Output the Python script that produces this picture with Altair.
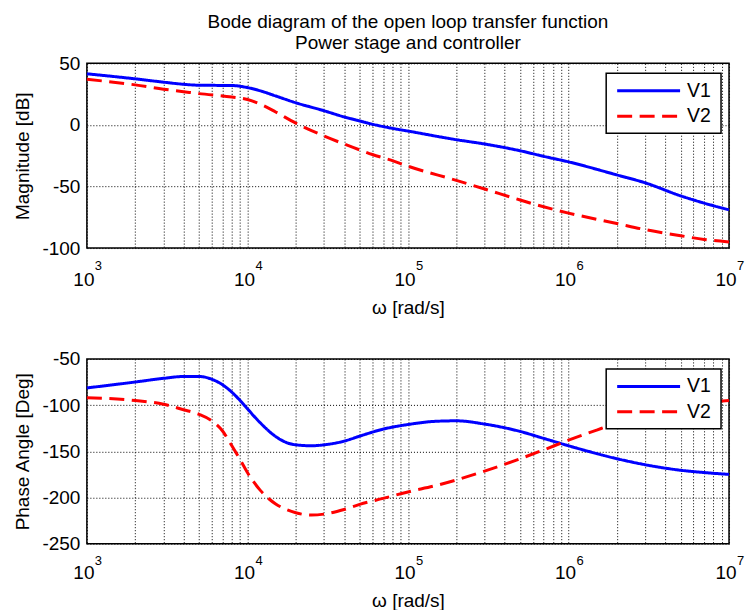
import altair as alt
import pandas as pd

# ---- data ----
series = ["V1", "V2"]

freq_mag = [1e3, 2e3, 3e3, 4e3, 5e3, 8e3, 1e4, 1.25e4, 1.5e4, 2e4, 3e4, 4e4, 5e4, 6e4,
            8e4, 1e5, 2e5, 3e5, 5e5, 7e5, 1e6, 2e6, 3e6, 5e6, 7e6, 1e7]
mag_v1 = [41.5, 37.4, 34.7, 33, 32.2, 32, 30.3, 27, 23.5, 18, 11.5, 6.5, 3.2, 0.6,
          -2.8, -5, -12, -15.5, -21, -25.5, -30, -40.6, -47, -57.6, -63.5, -69]
mag_v2 = [37, 32.5, 29, 27, 25.4, 22.7, 20.6, 15.9, 10.5, 1.5, -9, -15.5, -20.3, -24,
          -29, -33.5, -45, -52, -61, -66.5, -71.6, -80, -85, -90, -93, -95]

freq_phase = [1e3, 2e3, 3e3, 4e3, 5e3, 6e3, 7e3, 8e3, 9e3, 1e4, 1.2e4, 1.5e4, 1.75e4, 2e4,
              2.5e4, 3e4, 4e4, 5e4, 7e4, 1e5, 1.5e5, 2e5, 3e5, 5e5, 7e5, 1e6, 1.5e6, 2e6,
              3e6, 5e6, 7e6, 1e7]
phase_v1 = [-81.4, -75, -71, -69, -69, -72, -78, -86, -95, -104, -119, -134, -140.5, -143,
            -144, -143, -139, -133.6, -126, -121, -117.5, -117, -120.5, -128.5, -136, -144, -152.5, -158,
            -164.5, -170.5, -173, -175]
phase_v2 = [-92, -95, -99, -105, -110, -117, -128, -144, -159, -173, -192, -207, -213, -216.5,
            -219, -218, -213, -207.5, -201, -194, -187, -181, -171.5, -158, -148.5, -138, -127, -119.5,
            -110.5, -102, -97.5, -95]

x_major = [1e3, 1e4, 1e5, 1e6, 1e7]
x_exponents = ["3", "4", "5", "6", "7"]
x_grid = [m * d for d in [1e3, 1e4, 1e5, 1e6] for m in range(1, 10)] + [1e7]
mag_ticks = [-100, -50, 0, 50]
phase_ticks = [-250, -200, -150, -100, -50]

title_lines = ["Bode diagram of the open loop transfer function", "Power stage and controller"]

# ---- tables ----
mag_df = pd.DataFrame({
    "w": freq_mag * 2,
    "val": mag_v1 + mag_v2,
    "s": [series[0]] * len(freq_mag) + [series[1]] * len(freq_mag),
})
ph_df = pd.DataFrame({
    "w": freq_phase * 2,
    "val": phase_v1 + phase_v2,
    "s": [series[0]] * len(freq_phase) + [series[1]] * len(freq_phase),
})
exp_df = pd.DataFrame({"w": x_major, "e": x_exponents})
one = pd.DataFrame({"k": [0]})

FONT = "Liberation Sans"
W, H = 643, 185
COLORS = ["#0000ff", "#ff0000"]
DASH = [15, 7.5]

label_expr = ("(datum.value == 1000 || datum.value == 10000 || datum.value == 100000 || "
              "datum.value == 1000000 || datum.value == 10000000) ? '10' : ''")

x_scale = alt.Scale(type="log", domain=[1e3, 1e7], nice=False)


def panel(df, ticks, title, label_pad, title_pad):
    x_axis = alt.Axis(values=x_grid, labelExpr=label_expr, grid=True, gridDash=[1, 2],
                      gridColor="black", gridOpacity=1, ticks=False, domain=False,
                      labelOverlap=False, labelFlush=False, labelFontSize=19,
                      labelPadding=label_pad, labelOffset=-3.5,
                      title="\u03c9 [rad/s]", titleFontSize=19, titleFontWeight="normal",
                      titlePadding=title_pad)
    y_axis = alt.Axis(values=ticks, grid=True, gridDash=[1, 2], gridColor="black",
                      gridOpacity=1, ticks=False, domain=False, labelFontSize=19,
                      labelExpr="'' + datum.value",
                      labelPadding=7, title=title, titleFontSize=19,
                      titleFontWeight="normal", titlePadding=9)
    lines = alt.Chart(df).mark_line(strokeWidth=3, interpolate="monotone").encode(
        x=alt.X("w:Q", scale=x_scale, axis=x_axis),
        y=alt.Y("val:Q", scale=alt.Scale(domain=[ticks[0], ticks[-1]], nice=False), axis=y_axis),
        color=alt.Color("s:N", scale=alt.Scale(domain=series, range=COLORS), legend=None),
        strokeDash=alt.StrokeDash("s:N", scale=alt.Scale(domain=series, range=[[1, 0], DASH]),
                                  legend=None),
    )
    exps = alt.Chart(exp_df).mark_text(align="left", baseline="top", fontSize=13, dx=8,
                                       font=FONT, color="black").encode(
        x=alt.X("w:Q", scale=x_scale, axis=x_axis),
        y=alt.value(H + 11.5),
        text="e:N",
    )
    box = alt.Chart(one).mark_rect(fill="white", stroke="black", strokeWidth=1.5).encode(
        x=alt.value(520), x2=alt.value(635), y=alt.value(10), y2=alt.value(70))
    sym1 = alt.Chart(one).mark_rule(color=COLORS[0], strokeWidth=3).encode(
        x=alt.value(531), x2=alt.value(594), y=alt.value(27.5))
    sym2 = alt.Chart(one).mark_rule(color=COLORS[1], strokeWidth=3, strokeDash=DASH).encode(
        x=alt.value(531), x2=alt.value(594), y=alt.value(53))
    lab1 = alt.Chart(one).mark_text(align="left", baseline="middle", fontSize=19.5,
                                    font=FONT, color="black").encode(
        x=alt.value(601), y=alt.value(27.5), text=alt.value(series[0]))
    lab2 = alt.Chart(one).mark_text(align="left", baseline="middle", fontSize=19.5,
                                    font=FONT, color="black").encode(
        x=alt.value(601), y=alt.value(53), text=alt.value(series[1]))
    return alt.layer(lines, exps, box, sym1, sym2, lab1, lab2).properties(width=W, height=H)


top = panel(mag_df, mag_ticks, "Magnitude [dB]", 22, 10).properties(
    title=alt.TitleParams(title_lines, fontSize=19, fontWeight="normal", font=FONT,
                          anchor="middle", offset=1, lineHeight=21, color="black"))
bottom = panel(ph_df, phase_ticks, "Phase Angle [Deg]", 19.5, 9)

chart = alt.vconcat(top, bottom, spacing=30).properties(
    padding={"left": 13, "top": 12, "right": 0, "bottom": 0}
).configure_view(
    stroke="black", strokeWidth=1.5
).configure_axis(
    labelFont=FONT, titleFont=FONT, labelColor="black", titleColor="black"
)

chart.save("out.html", embed_options={"renderer": "svg", "actions": False})
